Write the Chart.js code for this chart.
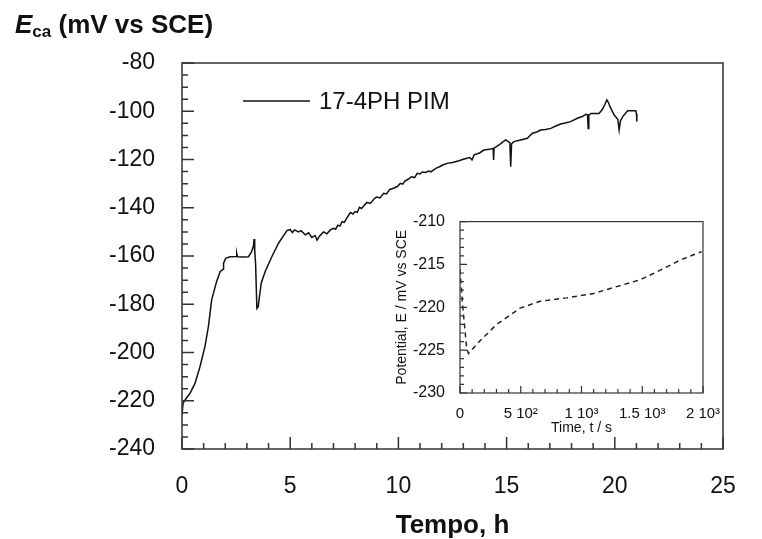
<!DOCTYPE html>
<html>
<head>
<meta charset="utf-8">
<script src="https://cdn.jsdelivr.net/npm/chart.js@4"></script>
<style>
  body { margin: 0; background: #fff; }
  #wrap { position: relative; width: 762px; height: 539px; }
  #main { position: absolute; left: 0; top: 0; }
  #inset { position: absolute; left: 395px; top: 205px; }
</style>
</head>
<body>
<div id="wrap">
  <canvas id="main" width="762" height="539"></canvas>
  <canvas id="inset" width="330" height="235"></canvas>
</div>
<script>
// main curve: time in hours, potential in mV vs SCE
const tHours = [0, 0.05, 0.14, 0.37, 0.6, 0.83, 1.06, 1.22, 1.37, 1.6, 1.76, 1.9, 1.92, 2.02, 2.22, 2.5, 2.53, 2.56, 2.8, 3.07,
  3.2, 3.3, 3.33, 3.36, 3.4, 3.46, 3.52, 3.66, 3.84, 4.15, 4.46, 4.85, 5.0, 5.1, 5.2, 5.39, 5.5, 5.7, 5.85, 6.0,
  6.15, 6.24, 6.35, 6.54, 6.7, 6.85, 7.0, 7.1, 7.2, 7.3, 7.4, 7.5, 7.6, 7.78, 7.9, 8.0, 8.1, 8.2, 8.3, 8.4,
  8.55, 8.7, 8.8, 8.9, 9.0, 9.15, 9.32, 9.45, 9.6, 9.8, 9.95, 10.09, 10.2, 10.3, 10.45, 10.6, 10.75, 10.87, 11.0, 11.1,
  11.25, 11.4, 11.5, 11.63, 11.75, 11.9, 12.05, 12.25, 12.5, 12.8, 13.0, 13.3, 13.4, 13.5, 13.75, 13.95, 14.2, 14.38, 14.4, 14.42,
  14.7, 14.95, 15.15, 15.19, 15.23, 15.34, 15.6, 15.96, 16.19, 16.4, 16.57, 16.8, 17.04, 17.3, 17.5, 17.75, 17.96, 18.27, 18.5, 18.66,
  18.74, 18.77, 18.8, 18.9, 19.27, 19.43, 19.55, 19.63, 19.7, 19.78, 19.97, 20.14, 20.2, 20.26, 20.36, 20.59, 20.97, 21.0, 21.02];
const eMain = [-226, -221, -219.7, -216.9, -212.8, -205.9, -197.6, -189.3, -178.2, -170.6, -166.5, -165.5, -163, -161, -160.3, -160.2, -159, -160.3, -160.4, -160.3,
  -158.5, -156, -153, -158, -163, -181.7, -181, -171.3, -166.5, -160.3, -154.7, -149.5, -149, -150.3, -149.2, -150, -149.5, -151.2, -150.4, -152.3,
  -151.5, -153.4, -151.8, -150, -150.8, -149.2, -148.5, -148.9, -147.2, -147.6, -145.8, -146.1, -144.5, -142, -142.6, -141.6, -141.9, -139.8, -140.3, -139.2,
  -137.8, -138.2, -137.2, -136.1, -135.6, -135.9, -134, -134.3, -132.4, -131.8, -131.2, -129.9, -130.2, -128.9, -128.2, -127.2, -127.5, -125.7, -126, -125.2,
  -125.4, -124.8, -125.1, -124.3, -123.6, -123, -122.3, -121.6, -121.2, -120.5, -119.9, -119.2, -120.2, -118.1, -117.3, -116.1, -115.8, -115.4, -120.2, -115.3,
  -113.6, -111.9, -113, -123, -113.5, -112.6, -112, -111.2, -109.1, -108.6, -107.8, -107.6, -107.1, -106, -105.3, -104.8, -104.3, -102.9, -102.2, -101.3,
  -101.5, -107.1, -101.6, -100.9, -100.9, -99.2, -97, -95.3, -96.3, -98.1, -101.6, -103.3, -107.8, -104, -102.3, -99.8, -99.8, -101, -104.3];

// inset curve: time in seconds
const tSec = [0, 20, 55, 70, 165, 302, 494, 658, 878, 1097, 1262, 1481, 1673, 1811, 1989];
const eInset = [-215.6, -219.5, -224.8, -225.4, -223.9, -222, -220.1, -219.3, -218.9, -218.4, -217.7, -216.8, -215.5, -214.5, -213.5];
const insetXLabels = ['0', '5 10\u00b2', '1 10\u00b3', '1.5 10\u00b3', '2 10\u00b3'];

const FONT = "'Liberation Sans', Arial, sans-serif";
Chart.defaults.font.family = FONT;
Chart.defaults.color = '#111';

// box around the plot area plus inward tick marks on the left and bottom axes
const frameTicks = {
  id: 'frameTicks',
  afterDatasetsDraw(chart, args, o) {
    const { ctx, chartArea: a, scales: { x, y } } = chart;
    ctx.save();
    ctx.strokeStyle = o.color;
    ctx.lineWidth = o.width;
    ctx.strokeRect(a.left, a.top, a.right - a.left, a.bottom - a.top);
    ctx.beginPath();
    const nx = Math.round((x.max - x.min) / o.xMinor);
    for (let i = 0; i <= nx; i++) {
      const px = x.getPixelForValue(x.min + i * o.xMinor);
      const len = (i % o.xEvery === 0) ? o.majorLen : o.minorLen;
      ctx.moveTo(px, a.bottom);
      ctx.lineTo(px, a.bottom - len);
    }
    const ny = Math.round((y.max - y.min) / o.yMinor);
    for (let i = 0; i <= ny; i++) {
      const py = y.getPixelForValue(y.min + i * o.yMinor);
      const len = (i % o.yEvery === 0) ? o.majorLen : o.minorLen;
      ctx.moveTo(a.left, py);
      ctx.lineTo(a.left + len, py);
    }
    ctx.stroke();
    ctx.restore();
  }
};

// y title with subscript and the in-plot legend
const labels = {
  id: 'labels',
  afterDraw(chart) {
    const { ctx } = chart;
    ctx.save();
    ctx.fillStyle = '#111';
    ctx.textBaseline = 'alphabetic';
    let x = 15;
    ctx.font = "italic bold 26px " + FONT;
    ctx.fillText('E', x, 33);
    x += ctx.measureText('E').width;
    ctx.font = "bold 17px " + FONT;
    ctx.fillText('ca', x, 37);
    x += ctx.measureText('ca').width;
    ctx.font = "bold 26px " + FONT;
    ctx.fillText(' (mV vs SCE)', x, 33);

    const ds = chart.data.datasets[0];
    ctx.strokeStyle = '#111';
    ctx.lineWidth = 1.4;
    ctx.beginPath();
    ctx.moveTo(243, 101);
    ctx.lineTo(310, 101);
    ctx.stroke();
    ctx.font = "24px " + FONT;
    ctx.textBaseline = 'middle';
    ctx.fillText(ds.label, 319, 102);
    ctx.restore();
  }
};

new Chart(document.getElementById('main'), {
  type: 'line',
  data: {
    datasets: [{
      label: '17-4PH PIM',
      data: tHours.map((t, i) => ({ x: t, y: eMain[i] })),
      borderColor: '#111',
      borderWidth: 1.5,
      pointRadius: 0,
      tension: 0
    }]
  },
  options: {
    responsive: false,
    animation: false,
    layout: { padding: { left: 0, top: 63, right: 39, bottom: 0 } },
    plugins: {
      legend: { display: false },
      tooltip: { enabled: false },
      frameTicks: { color: '#333', width: 1.5, xMinor: 1, xEvery: 5, yMinor: 5, yEvery: 4, majorLen: 12, minorLen: 6 }
    },
    scales: {
      x: {
        type: 'linear',
        min: 0, max: 25,
        grid: { display: false },
        border: { display: false },
        ticks: { stepSize: 5, autoSkip: false, maxRotation: 0, padding: 16, font: { size: 23 }, color: '#111' },
        title: { display: true, text: 'Tempo, h', font: { size: 26, weight: 'bold', lineHeight: 1 }, padding: { top: 0, bottom: 0 }, color: '#111' },
        afterFit: s => { s.height = 539 - 449; }
      },
      y: {
        min: -240, max: -80,
        grid: { display: false },
        border: { display: false },
        ticks: { stepSize: 20, autoSkip: false, padding: 19, font: { size: 23 }, color: '#111' },
        afterFit: s => { s.width = 182; }
      }
    }
  },
  plugins: [frameTicks, labels]
});

new Chart(document.getElementById('inset'), {
  type: 'line',
  data: {
    datasets: [{
      label: 'inset',
      data: tSec.map((t, i) => ({ x: t, y: eInset[i] })),
      borderColor: '#222',
      borderWidth: 1.5,
      borderDash: [5, 4],
      pointRadius: 0,
      tension: 0
    }]
  },
  options: {
    responsive: false,
    animation: false,
    layout: { padding: { left: 0, top: 14, right: 22, bottom: 0 } },
    plugins: {
      legend: { display: false },
      tooltip: { enabled: false },
      frameTicks: { color: '#333', width: 1.2, xMinor: 100, xEvery: 5, yMinor: 1, yEvery: 5, majorLen: 7, minorLen: 4 }
    },
    scales: {
      x: {
        type: 'linear',
        min: 0, max: 2000,
        grid: { display: false },
        border: { display: false },
        ticks: { stepSize: 500, autoSkip: false, maxRotation: 0, padding: 4, font: { size: 15 }, color: '#111',
          callback: (v, i) => insetXLabels[i] },
        title: { display: true, text: 'Time, t / s', font: { size: 14, lineHeight: 1 }, padding: { top: 0, bottom: 5 }, color: '#111' },
        afterFit: s => { s.height = 235 - 188; }
      },
      y: {
        min: -230, max: -210,
        grid: { display: false },
        border: { display: false },
        ticks: { stepSize: 5, autoSkip: false, padding: 7, font: { size: 16 }, color: '#111' },
        title: { display: true, text: 'Potential, E / mV vs SCE', font: { size: 14, lineHeight: 1 }, padding: 0, color: '#111' },
        afterFit: s => { s.width = 65; }
      }
    }
  },
  plugins: [frameTicks]
});
</script>
</body>
</html>
